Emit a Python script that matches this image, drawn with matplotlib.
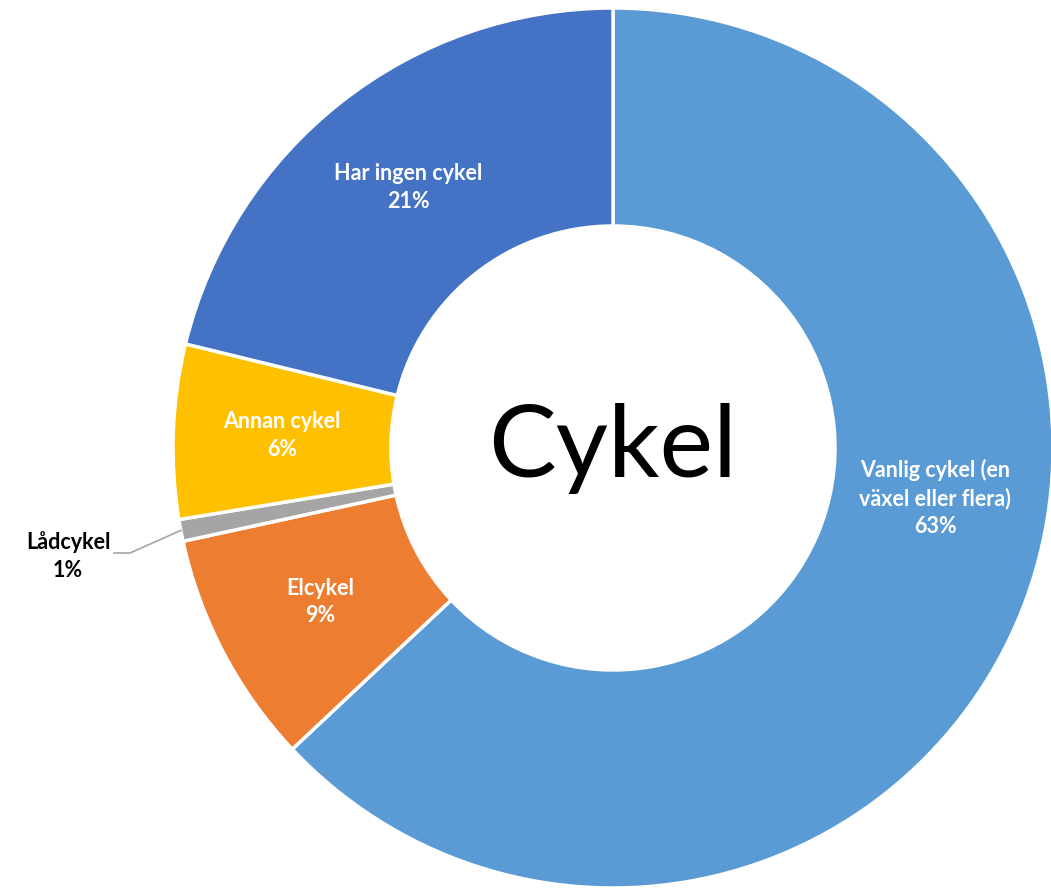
import numpy as np
import matplotlib.pyplot as plt

categories = ["Vanlig cykel (en\nväxel eller flera)", "Elcykel", "Lådcykel", "Annan cykel", "Har ingen cykel"]
shares = [63.0, 8.6, 0.8, 6.4, 21.2]
colors = ["#5B9BD5", "#ED7D31", "#A5A5A5", "#FFC000", "#4472C4"]
center_title = "Cykel"

W, H = 1051, 889
fig = plt.figure(figsize=(W / 100, H / 100), dpi=100)
ax = fig.add_axes([0, 0, 1, 1])

cx, cy = 613, H - 448
r_out, r_in = 440, 222

wedges, _ = ax.pie(
    shares,
    colors=colors,
    startangle=90,
    counterclock=False,
    center=(cx, cy),
    radius=r_out,
    wedgeprops=dict(width=r_out - r_in, edgecolor="white", linewidth=2.5),
)

font = "Lato"
fs = 15.5
r_mid = (r_out + r_in) / 2
for i, (w, cat, val) in enumerate(zip(wedges, categories, shares)):
    ang = np.deg2rad((w.theta1 + w.theta2) / 2)
    label = f"{cat}\n{val:.0f}%"
    if i == 0:
        # Excel nudges the big slice label towards the right side
        ang = np.deg2rad(-8.8)
        x, y = cx + 326 * np.cos(ang), cy + 326 * np.sin(ang)
        ax.text(x, y, label, ha="center", va="center", color="white",
                fontsize=fs, fontweight="bold", family=font, linespacing=1.4)
    elif cat == "Lådcykel":
        px, py = cx + r_out * np.cos(ang), cy + r_out * np.sin(ang)
        ax.plot([px, 130, 114], [py, H - 553, H - 553], color="#A5A5A5", lw=1.2)
        ax.text(68, H - 556, label, ha="center", va="center", color="black",
                fontsize=fs, fontweight="bold", family=font, linespacing=1.4)
    else:
        x, y = cx + r_mid * np.cos(ang), cy + r_mid * np.sin(ang)
        ax.text(x, y, label, ha="center", va="center", color="white",
                fontsize=fs, fontweight="bold", family=font, linespacing=1.4)

ax.text(cx, cy, center_title, ha="center", va="center", fontsize=73, family=font)

ax.set_xlim(0, W)
ax.set_ylim(0, H)
ax.set_aspect("equal")
ax.axis("off")
fig.savefig("out.png", dpi=100)
